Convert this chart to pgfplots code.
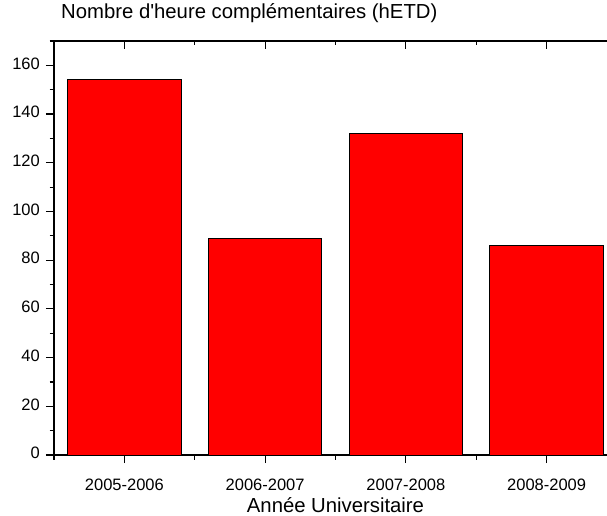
\documentclass[border=0pt]{standalone}
\usepackage{pgfplots}
\pgfplotsset{compat=1.18}
\usepackage{fontspec}
\setmainfont{Liberation Sans}
\begin{document}
\begin{tikzpicture}
\pgfplotsset{
  common/.style={
    scale only axis,
    width=563pt, height=414pt,
    at={(54pt,60pt)}, anchor=south west,
    xmin=-0.5, xmax=3.5, ymin=0, ymax=170,
    axis line style={line width=1.4pt},
    major tick length=8pt, minor tick length=4.5pt,
    every tick/.style={black, line width=1.2pt},
    /pgf/number format/assume math mode=true,
  }
}
\begin{axis}[common,
  ybar, bar width=113.5pt,
  xtick={0,1,2,3},
  xticklabels={2005-2006,2006-2007,2007-2008,2008-2009},
  minor xtick={-0.5,0.5,1.5,2.5,3.5},
  ytick={0,20,...,160},
  minor ytick={10,30,...,170},
  xtick pos=bottom, ytick pos=left,
  tick align=outside,
  ticklabel style={font=\fontsize{16.5}{19}\selectfont},
  yticklabel style={anchor=east, inner sep=0pt, xshift=-6pt},
  xticklabel style={anchor=base, inner sep=0pt, yshift=-27pt},
  typeset ticklabels with strut=false,
  xlabel={Année Universitaire},
  xlabel style={font=\fontsize{20.3}{24}\selectfont, at={(axis description cs:0.5,0)}, anchor=base, yshift=-57pt, inner sep=0pt},
  title={Nombre d\textquotesingle heure complémentaires (hETD)},
  title style={font=\fontsize{20.3}{24}\selectfont, at={(axis description cs:0,1)}, anchor=base west, xshift=7pt, yshift=16pt, inner sep=0pt},
]
\addplot[fill={rgb,255:red,255;green,0;blue,0}, draw=black, line width=1pt]
  coordinates {(0,154) (1,89) (2,132) (3,86)};
\end{axis}
\begin{axis}[common,
  axis x line*=top, axis y line=none,
  xtick={0,1,2,3}, xticklabels={},
  minor xtick={-0.5,0.5,1.5,2.5,3.5},
  tick align=inside,
]
\end{axis}
\pgfresetboundingbox
\useasboundingbox (0,0) rectangle (607pt,515pt);
\end{tikzpicture}
\end{document}
